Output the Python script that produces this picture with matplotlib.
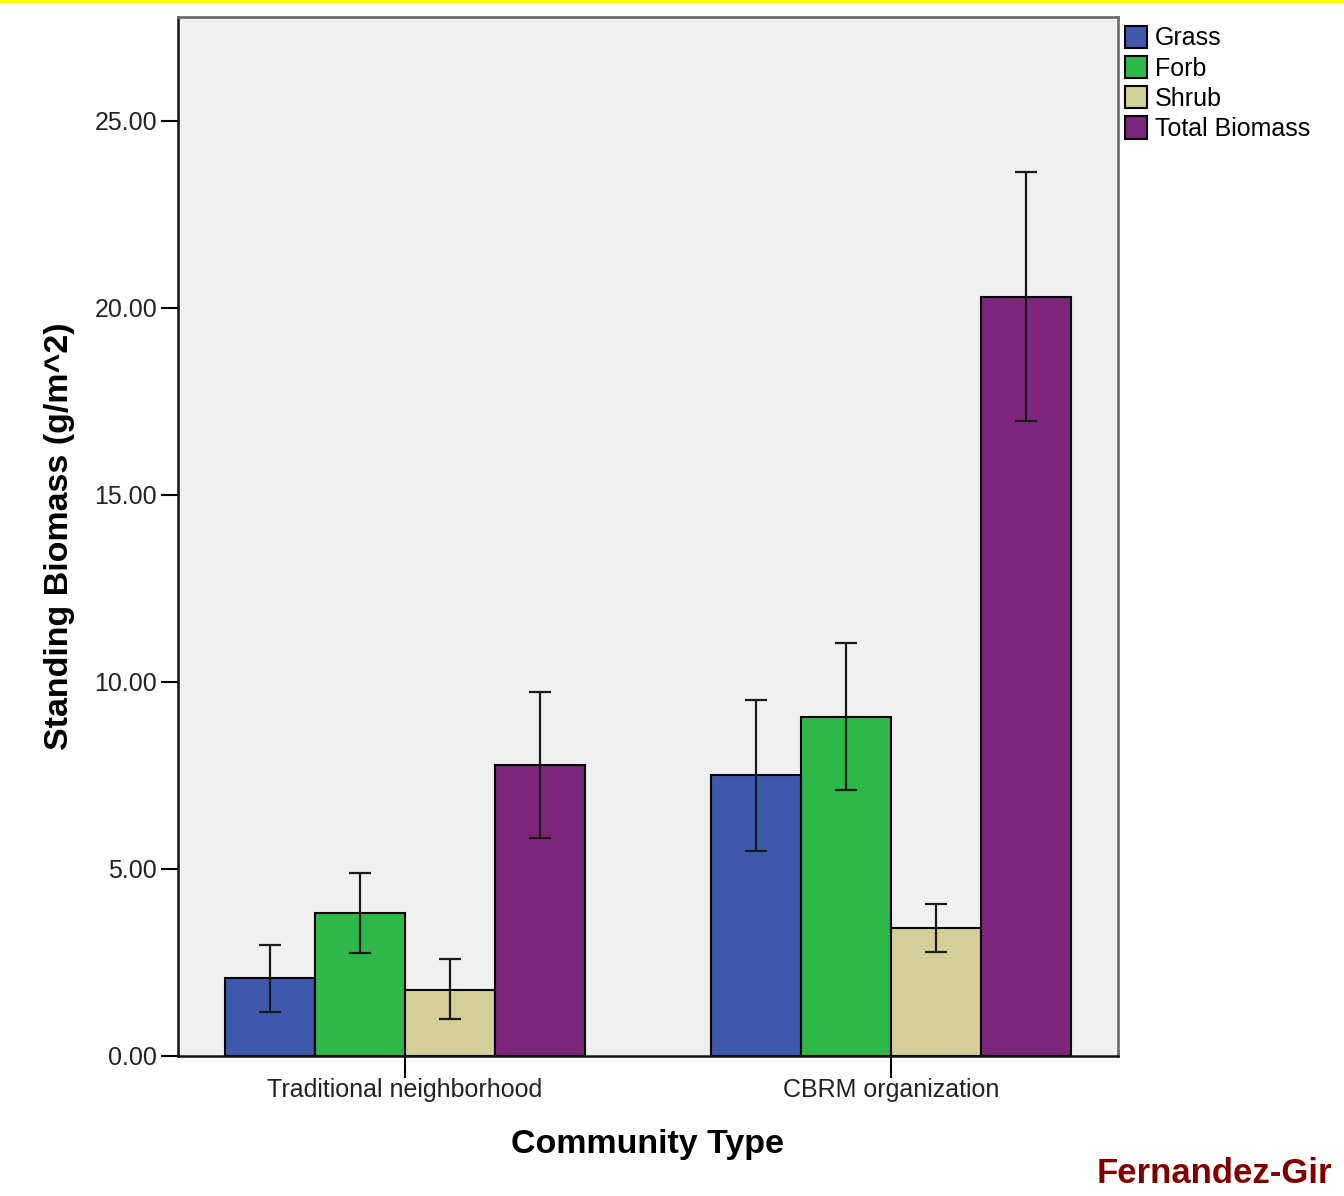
import numpy as np
import matplotlib.pyplot as plt
from matplotlib.patches import Patch

plt.rcParams['font.family'] = ['Liberation Sans', 'DejaVu Sans']

# Mean standing biomass per community type, with lower/upper error limits
community = ['Traditional neighborhood', 'CBRM organization']
series = ['Grass', 'Forb', 'Shrub', 'Total Biomass']
colors = ['#3e58ac', '#2eb848', '#d4cf98', '#7b267a']

grass = [2.09, 7.51]
forb = [3.82, 9.06]
shrub = [1.76, 3.42]
total = [7.78, 20.29]

grass_lo = [1.18, 5.48]
grass_hi = [2.97, 9.52]
forb_lo = [2.75, 7.11]
forb_hi = [4.89, 11.04]
shrub_lo = [0.99, 2.78]
shrub_hi = [2.59, 4.06]
total_lo = [5.83, 16.98]
total_hi = [9.73, 23.64]

means = [grass, forb, shrub, total]
lows = [grass_lo, forb_lo, shrub_lo, total_lo]
highs = [grass_hi, forb_hi, shrub_hi, total_hi]

fig = plt.figure(figsize=(13.44, 11.96), dpi=100)
ax = fig.add_axes([0.1324, 0.1171, 0.6994, 0.8687])
ax.set_facecolor('#f0f0f0')

x = np.arange(len(community))
w = 0.185
for i, (m, lo, hi, c) in enumerate(zip(means, lows, highs, colors)):
    pos = x + (i - 1.5) * w
    m = np.array(m)
    err = [m - np.array(lo), np.array(hi) - m]
    ax.bar(pos, m, width=w, color=c, edgecolor='black', linewidth=1.5, zorder=2)
    ax.errorbar(pos, m, yerr=err, fmt='none', ecolor='#1a1a1a', elinewidth=1.6,
                capsize=8, capthick=1.6, zorder=3)

ax.set_xlim(-0.467, 1.467)
ax.set_ylim(0, 27.78)
ax.set_yticks(np.arange(0, 26, 5))
ax.set_yticklabels([f'{v:.2f}' for v in np.arange(0, 26, 5)], fontsize=18, color='#222222')
ax.set_xticks(x)
ax.set_xticklabels(community, fontsize=18, color='#222222')
ax.tick_params(axis='y', direction='out', length=12, width=1.5, pad=3)
ax.tick_params(axis='x', direction='out', length=16, width=1.5, pad=0)

for side in ['left', 'bottom']:
    ax.spines[side].set_linewidth(1.8)
    ax.spines[side].set_color('#111111')
for side in ['top', 'right']:
    ax.spines[side].set_linewidth(2)
    ax.spines[side].set_color('#6e6e6e')

ax.set_ylabel('Standing Biomass (g/m^2)', fontsize=24.5, fontweight='bold', labelpad=14)
ax.set_xlabel('Community Type', fontsize=24.5, fontweight='bold', labelpad=19)

handles = [Patch(facecolor=c, edgecolor='black', linewidth=1.5) for c in colors]
fig.legend(handles, series, loc='upper left', bbox_to_anchor=(0.8295, 0.987),
           frameon=False, fontsize=18, handlelength=0.9, handleheight=1.0,
           handletextpad=0.3, labelspacing=0.22, borderaxespad=0)

# yellow rule along the top edge and the credit line in the corner
fig.add_artist(plt.Line2D([0, 1], [0.9992, 0.9992], color='#ffff00', linewidth=3,
                          transform=fig.transFigure))
fig.text(0.816, 0.011, 'Fernandez-Gir', fontsize=25, fontweight='bold',
         color='#800000', ha='left', va='baseline')

fig.savefig('out.png', dpi=100, facecolor='white')
